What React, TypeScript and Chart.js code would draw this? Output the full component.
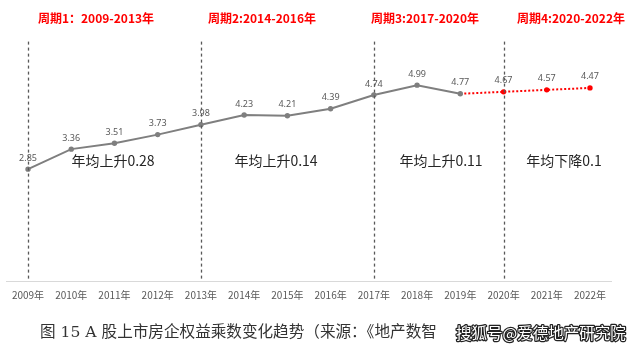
import React, { useEffect, useRef } from "react";
import { Chart, registerables } from "chart.js";

Chart.register(...registerables);

const categories = ["2009年","2010年","2011年","2012年","2013年","2014年","2015年","2016年","2017年","2018年","2019年","2020年","2021年","2022年"];
const plottedValues = [2.85, 3.36, 3.51, 3.73, 3.98, 4.23, 4.21, 4.39, 4.74, 4.99, 4.77, 4.82, 4.87, 4.92];
const valueLabels = ["2.85","3.36","3.51","3.73","3.98","4.23","4.21","4.39","4.74","4.99","4.77","4.67","4.57","4.47"];
const forecastStart = 10; // segments from this index onward are dotted red
const cycleLineIndices = [0, 4, 8, 11];
const cycleTitles = ["周期1：2009-2013年", "周期2:2014-2016年", "周期3:2017-2020年", "周期4:2020-2022年"];
const cycleTitleX = [96, 262, 425, 571];
const trendTexts = ["年均上升0.28", "年均上升0.14", "年均上升0.11", "年均下降0.1"];
const trendTextX = [113, 276, 441, 564];
const captionText = "图 15 A 股上市房企权益乘数变化趋势（来源：《地产数智";
const watermarkText = "搜狐号@爱德地产研究院";

const overlayPlugin = {
  id: "overlay",
  afterDatasetsDraw(chart: any) {
    const ctx = chart.ctx;
    const area = chart.chartArea;
    const xs = chart.scales.x;
    const meta = chart.getDatasetMeta(0);
    ctx.save();
    // dashed cycle lines
    ctx.strokeStyle = "#595959";
    ctx.lineWidth = 1.3;
    ctx.setLineDash([3, 3]);
    cycleLineIndices.forEach((i) => {
      const x = Math.round(xs.getPixelForValue(i)) + 0.5;
      ctx.beginPath();
      ctx.moveTo(x, area.top);
      ctx.lineTo(x, area.bottom);
      ctx.stroke();
    });
    ctx.setLineDash([]);
    // value labels
    ctx.fillStyle = "#595959";
    ctx.font = "9px 'Noto Sans', sans-serif";
    ctx.textAlign = "center";
    ctx.textBaseline = "middle";
    meta.data.forEach((pt: any, i: number) => {
      ctx.fillText(valueLabels[i], pt.x, pt.y - 11);
    });
    // cycle titles
    ctx.fillStyle = "#ff0000";
    ctx.font = "bold 12px 'Noto Sans CJK SC', sans-serif";
    cycleTitles.forEach((t, i) => ctx.fillText(t, cycleTitleX[i], 18));
    // trend texts
    ctx.fillStyle = "#262626";
    ctx.font = "14px 'Noto Sans CJK SC', sans-serif";
    trendTexts.forEach((t, i) => ctx.fillText(t, trendTextX[i], 161));
    // caption
    ctx.textAlign = "left";
    ctx.fillStyle = "#333333";
    ctx.font = "15.6px 'DejaVu Serif', 'Noto Sans CJK SC', serif";
    ctx.fillText(captionText, 40, 333);
    // watermark
    ctx.font = "15.5px 'Noto Sans CJK SC', sans-serif";
    ctx.lineWidth = 2.5;
    ctx.strokeStyle = "#222222";
    ctx.lineJoin = "round";
    ctx.strokeText(watermarkText, 456, 333);
    ctx.fillStyle = "#ffffff";
    ctx.fillText(watermarkText, 456, 333);
    ctx.restore();
  },
};

export default function App() {
  const ref = useRef<HTMLCanvasElement | null>(null);
  useEffect(() => {
    if (!ref.current) return;
    const chart = new Chart(ref.current, {
      type: "line",
      data: {
        labels: categories,
        datasets: [
          {
            data: plottedValues,
            borderColor: "#7f7f7f",
            borderWidth: 2,
            pointRadius: 1.7,
            pointBackgroundColor: plottedValues.map((_, i) => (i > forecastStart ? "#ff0000" : "#7f7f7f")),
            pointBorderColor: plottedValues.map((_, i) => (i > forecastStart ? "#ff0000" : "#7f7f7f")),
            tension: 0,
            segment: {
              borderColor: (c: any) => (c.p0DataIndex >= forecastStart ? "#ff0000" : "#7f7f7f"),
              borderDash: (c: any) => (c.p0DataIndex >= forecastStart ? [2, 2] : undefined),
            },
          } as any,
        ],
      },
      options: {
        animation: false,
        responsive: false,
        maintainAspectRatio: false,
        layout: { padding: { left: 6.4, right: 28.4, top: 41.6, bottom: 0 } },
        plugins: { legend: { display: false }, tooltip: { enabled: false } },
        scales: {
          x: {
            offset: true,
            grid: { display: false, drawTicks: false },
            border: { display: true, color: "#d9d9d9", width: 1 },
            ticks: { color: "#595959", font: { size: 10, family: "'Noto Sans CJK SC', sans-serif" }, padding: 8, maxRotation: 0, autoSkip: false },
            afterFit: (axis: any) => { axis.height = 71; },
          },
          y: { display: false, min: 0, max: 6.1 },
        },
      },
      plugins: [overlayPlugin],
    });
    return () => chart.destroy();
  }, []);
  return (
    <div style={{ position: "absolute", left: 0, top: 0, width: 640, height: 352, background: "#fff" }}>
      <canvas ref={ref} width={640} height={352} style={{ width: 640, height: 352 }} />
    </div>
  );
}
